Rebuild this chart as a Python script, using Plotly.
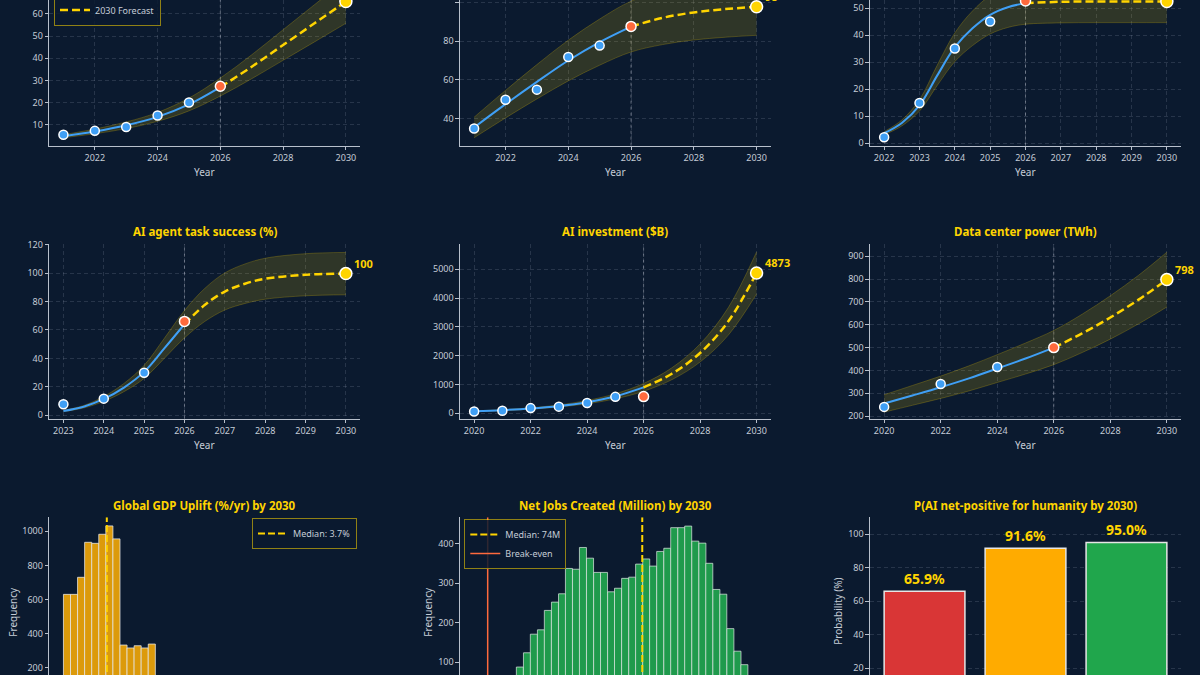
import plotly.graph_objects as go

W, H = 1200, 675
BG = "#0b1a2f"
GOLD = "#FFD400"
BLUE = "#3f9ff5"
RED = "#ff6a3d"
AXIS = "#b8c0cc"
TXT = "#c5ccd6"
GRID = "rgba(200,210,225,0.15)"
BAND_FILL = "rgba(255,215,0,0.15)"
BAND_EDGE = "rgba(255,215,0,0.28)"
FONT = "Noto Sans"

# ---------------- data ----------------
# Panel A (top-left)
a_hist_years = [2021, 2022, 2023, 2024, 2025]
a_hist_vals = [5.5, 7.3, 9.0, 14.2, 20.1]
a_est_2026 = 27.4
a_fc_2030 = 65.6
a_fit_years = [2021, 2022, 2023, 2024, 2025, 2026, 2027, 2028, 2029, 2030]
a_fit_vals = [4.9, 7.0, 9.8, 13.6, 19.2, 27.0, 36.2, 46.0, 55.8, 65.6]
a_band_lo = [4.2, 6.0, 8.3, 11.6, 16.3, 23.0, 30.8, 39.1, 47.4, 55.8]
a_band_hi = [5.6, 8.1, 11.3, 15.6, 22.1, 31.1, 41.6, 52.9, 64.2, 75.4]

# Panel B (top-middle)
b_hist_years = [2021, 2022, 2023, 2024, 2025]
b_hist_vals = [35.0, 49.8, 55.0, 71.8, 77.7]
b_est_2026 = 87.6
b_fc_2030 = 97.7
b_fit_years = [2021, 2022, 2023, 2024, 2025, 2026, 2027, 2028, 2029, 2030]
b_fit_vals = [35.5, 47.5, 59.0, 70.0, 79.5, 87.5, 92.0, 94.8, 96.5, 97.7]
b_band_lo = [30.2, 40.4, 50.2, 59.5, 67.6, 74.4, 78.2, 80.6, 82.0, 83.0]
b_band_hi = [40.8, 54.6, 67.9, 80.5, 91.4, 100.6, 105.8, 109.0, 111.0, 112.4]

# Panel C (top-right)
c_hist_years = [2022, 2023, 2024, 2025]
c_hist_vals = [2.2, 14.9, 35.0, 45.0]
c_est_2026 = 52.6
c_fc_2030 = 52.4
c_fit_years = [2022, 2022.5, 2023, 2023.5, 2024, 2024.5, 2025, 2025.5, 2026, 2027, 2028, 2029, 2030]
c_fit_vals = [3.7, 7.5, 14.0, 25.0, 35.5, 42.5, 47.5, 50.3, 51.8, 52.3, 52.4, 52.4, 52.4]
c_band_lo = [3.1, 6.4, 11.9, 21.3, 30.2, 36.1, 40.4, 42.8, 44.0, 44.5, 44.6, 44.6, 44.6]
c_band_hi = [4.3, 8.6, 16.1, 28.8, 40.8, 48.9, 54.6, 57.8, 59.6, 60.3, 60.4, 60.4, 60.4]

# Panel D: AI agent task success (%)
d_title = "AI agent task success (%)"
d_hist_years = [2023, 2024, 2025]
d_hist_vals = [7.7, 11.7, 29.9]
d_est_2026 = 66.0
d_fc_2030 = 99.6
d_fit_years = [2023, 2023.5, 2024, 2024.5, 2025, 2025.5, 2026, 2026.5, 2027, 2027.5, 2028, 2029, 2030]
d_fit_vals = [3.0, 6.0, 11.5, 19.5, 30.5, 47.0, 64.0, 77.5, 87.0, 92.5, 96.0, 98.8, 99.6]
d_band_lo = [2.6, 5.1, 9.8, 16.6, 25.9, 40.0, 54.4, 65.9, 74.0, 78.6, 81.6, 84.0, 84.7]
d_band_hi = [3.5, 6.9, 13.2, 22.4, 35.1, 54.1, 73.6, 89.1, 100.1, 106.4, 110.4, 113.6, 114.5]

# Panel E: AI investment ($B)
e_title = "AI investment ($B)"
e_hist_years = [2020, 2021, 2022, 2023, 2024, 2025]
e_hist_vals = [60, 90, 180, 230, 360, 570]
e_est_2026 = 580
e_fc_2030 = 4873
e_fit_years = [2020, 2021, 2022, 2023, 2024, 2025, 2026, 2027, 2028, 2029, 2030]
e_fit_vals = [72, 109, 166, 254, 387, 590, 900, 1373, 2094, 3194, 4873]
e_band_lo = [61, 93, 141, 216, 329, 502, 765, 1167, 1780, 2715, 4142]
e_band_hi = [83, 125, 191, 292, 445, 679, 1035, 1579, 2408, 3673, 5604]

# Panel F: Data center power (TWh)
f_title = "Data center power (TWh)"
f_hist_years = [2020, 2022, 2024]
f_hist_vals = [240, 340, 415]
f_est_2026 = 500
f_fc_2030 = 798
f_fit_years = [2020, 2021, 2022, 2023, 2024, 2025, 2026, 2027, 2028, 2029, 2030]
f_fit_vals = [255, 290, 326, 365, 408, 452, 500, 562, 632, 710, 798]
f_band_lo = [217, 247, 277, 310, 347, 384, 425, 478, 537, 604, 678]
f_band_hi = [293, 334, 375, 420, 469, 520, 575, 646, 727, 817, 918]

# Panel G: Global GDP uplift histogram (visible bins)
g_title = "Global GDP Uplift (%/yr) by 2030"
g_bin_centers = [1.22, 1.66, 2.10, 2.54, 2.98, 3.42, 3.86, 4.30, 4.74, 5.18, 5.62, 6.06, 6.50]
g_bin_width = 0.44
g_counts = [630, 630, 730, 935, 929, 982, 1031, 955, 333, 316, 329, 316, 339]
g_median = 3.7

# Panel H: Net jobs histogram (visible bins)
h_title = "Net Jobs Created (Million) by 2030"
h_bin_centers = [15.4, 18.8, 22.1, 25.5, 28.8, 32.2, 35.6, 38.9, 42.3, 45.6, 49.0,
                 52.4, 55.7, 59.1, 62.4, 65.8, 69.2, 72.5, 75.9, 79.2, 82.6, 86.0,
                 89.3, 92.7, 96.0, 99.4, 102.8, 106.1, 109.5, 112.8, 116.2, 119.6, 122.9]
h_bin_width = 3.36
h_counts = [88, 124, 171, 182, 231, 252, 273, 337, 335, 390, 363,
            327, 327, 278, 287, 312, 315, 348, 361, 343, 380, 388,
            440, 440, 444, 406, 401, 350, 284, 272, 185, 128, 94]
h_median = 74
h_break_even = 0

# Panel I: probability bars
i_title = "P(AI net-positive for humanity by 2030)"
i_categories = ["Pessimistic", "Baseline", "Optimistic"]
i_values = [65.9, 91.6, 95.0]
i_colors = ["#d93636", "#ffab00", "#20a64c"]

# ---------------- layout geometry (pixels) ----------------
cols = [(49.3, 360.0), (460.0, 770.7), (870.0, 1181.0)]
rows = [(0.0, 145.7), (244.3, 418.7), (517.3, 675.0)]


def xd(c):
    return [cols[c][0] / W, cols[c][1] / W]


def yd(r):
    return [1 - rows[r][1] / H, 1 - rows[r][0] / H]


def tick_font():
    return dict(size=9, color=TXT, family=FONT)


def base_axis(grid=False):
    return dict(showline=True, linecolor=AXIS, linewidth=1.2, ticks="outside", ticklen=3.5,
                tickwidth=1, tickcolor=AXIS, tickfont=tick_font(), zeroline=False,
                showgrid=grid, gridcolor=GRID, gridwidth=0.8, griddash="4px,3px")


fig = go.Figure()
layout = dict(width=W, height=H, margin=dict(l=0, r=0, t=0, b=0, autoexpand=False),
              paper_bgcolor=BG, plot_bgcolor=BG, font=dict(family=FONT, color=TXT),
              showlegend=True)
annotations = []
shapes = []

line_panels = [
    dict(hy=a_hist_years, hv=a_hist_vals, est=a_est_2026, fc=a_fc_2030, fy=a_fit_years, fv=a_fit_vals,
         lo=a_band_lo, hi=a_band_hi, xr=[2020.55, 2030.45], yr=[0.6, 66.3], xdt=2, ydt=10, title=None, leg=True),
    dict(hy=b_hist_years, hv=b_hist_vals, est=b_est_2026, fc=b_fc_2030, fy=b_fit_years, fv=b_fit_vals,
         lo=b_band_lo, hi=b_band_hi, xr=[2020.55, 2030.45], yr=[26.1, 101.2], xdt=2, ydt=20, title=None, leg=False),
    dict(hy=c_hist_years, hv=c_hist_vals, est=c_est_2026, fc=c_fc_2030, fy=c_fit_years, fv=c_fit_vals,
         lo=c_band_lo, hi=c_band_hi, xr=[2021.6, 2030.4], yr=[-0.9, 52.96], xdt=1, ydt=10, title=None, leg=False),
    dict(hy=d_hist_years, hv=d_hist_vals, est=d_est_2026, fc=d_fc_2030, fy=d_fit_years, fv=d_fit_vals,
         lo=d_band_lo, hi=d_band_hi, xr=[2022.65, 2030.35], yr=[-2.4, 120.2], xdt=1, ydt=20, title=d_title, leg=False),
    dict(hy=e_hist_years, hv=e_hist_vals, est=e_est_2026, fc=e_fc_2030, fy=e_fit_years, fv=e_fit_vals,
         lo=e_band_lo, hi=e_band_hi, xr=[2019.5, 2030.5], yr=[-188, 5868], xdt=2, ydt=1000, title=e_title, leg=False),
    dict(hy=f_hist_years, hv=f_hist_vals, est=f_est_2026, fc=f_fc_2030, fy=f_fit_years, fv=f_fit_vals,
         lo=f_band_lo, hi=f_band_hi, xr=[2019.5, 2030.5], yr=[188.3, 952.6], xdt=2, ydt=100, title=f_title, leg=False),
]

title_y = {1: 1 - 231.7 / H, 2: 1 - 505.0 / H}
year_y = {0: 1 - 171.7 / H, 1: 1 - 445.0 / H}

for i, p in enumerate(line_panels):
    r, c = divmod(i, 3)
    n = "" if i == 0 else str(i + 1)
    xa, ya = "x" + n, "y" + n
    xax = base_axis(True)
    xax.update(domain=xd(c), anchor=ya, range=p["xr"], dtick=p["xdt"], tick0=2020)
    yax = base_axis(True)
    yax.update(domain=yd(r), anchor=xa, range=p["yr"], dtick=p["ydt"], tick0=0)
    layout["xaxis" + n] = xax
    layout["yaxis" + n] = yax

    # confidence band
    fig.add_trace(go.Scatter(x=p["fy"], y=p["hi"], mode="lines", line=dict(color=BAND_EDGE, width=0.8, shape="spline"),
                             xaxis=xa, yaxis=ya, showlegend=False, hoverinfo="skip"))
    fig.add_trace(go.Scatter(x=p["fy"], y=p["lo"], mode="lines", line=dict(color=BAND_EDGE, width=0.8, shape="spline"),
                             fill="tonexty", fillcolor=BAND_FILL, xaxis=xa, yaxis=ya, showlegend=False, hoverinfo="skip"))
    # fitted curve: solid up to 2026, dashed forecast after
    sx = [x for x in p["fy"] if x <= 2026]
    sv = [v for x, v in zip(p["fy"], p["fv"]) if x <= 2026]
    dx = [x for x in p["fy"] if x >= 2026]
    dv = [v for x, v in zip(p["fy"], p["fv"]) if x >= 2026]
    fig.add_trace(go.Scatter(x=sx, y=sv, mode="lines", line=dict(color=BLUE, width=2, shape="spline"),
                             xaxis=xa, yaxis=ya, name="Historical", showlegend=p["leg"], legend="legend"))
    fig.add_trace(go.Scatter(x=dx, y=dv, mode="lines", line=dict(color=GOLD, width=2.5, dash="8px,4px", shape="spline"),
                             xaxis=xa, yaxis=ya, name="2030 Forecast", showlegend=p["leg"], legend="legend"))
    # markers
    fig.add_trace(go.Scatter(x=p["hy"], y=p["hv"], mode="markers",
                             marker=dict(color=BLUE, size=9, line=dict(color="white", width=1.5)),
                             xaxis=xa, yaxis=ya, showlegend=False))
    fig.add_trace(go.Scatter(x=[2026], y=[p["est"]], mode="markers",
                             marker=dict(color=RED, size=10, line=dict(color="white", width=1.5)),
                             xaxis=xa, yaxis=ya, showlegend=False))
    fig.add_trace(go.Scatter(x=[2030], y=[p["fc"]], mode="markers",
                             marker=dict(color=GOLD, size=12, line=dict(color="white", width=1.5)),
                             xaxis=xa, yaxis=ya, showlegend=False))
    annotations.append(dict(x=2030, y=p["fc"], xref=xa, yref=ya, text=f"{p['fc']:.0f}", showarrow=False,
                            xanchor="left", yanchor="middle", xshift=6, yshift=10,
                            font=dict(size=11, color=GOLD, family=FONT, weight="bold")))
    shapes.append(dict(type="line", xref=xa, yref=ya + " domain", x0=2026, x1=2026, y0=0, y1=1,
                       line=dict(color="rgba(200,205,215,0.45)", width=1, dash="dot"), layer="below"))
    annotations.append(dict(x=(cols[c][0] + cols[c][1]) / 2 / W, y=year_y[r], xref="paper", yref="paper",
                            text="Year", showarrow=False, xanchor="center", yanchor="middle",
                            font=dict(size=10, color=TXT, family=FONT)))
    if p["title"]:
        annotations.append(dict(x=(cols[c][0] + cols[c][1]) / 2 / W, y=title_y[r], xref="paper", yref="paper",
                                text=p["title"], showarrow=False, xanchor="center", yanchor="middle",
                                font=dict(size=11.5, color=GOLD, family=FONT, weight="bold")))

# ---------------- bottom row ----------------
# G: GDP histogram
xax = base_axis(False)
xax.update(domain=xd(0), anchor="y7", range=[0.12, 19.46], showticklabels=False)
yax = base_axis(False)
yax.update(domain=yd(2), anchor="x7", range=[157.6, 1081.5], dtick=200, tick0=0)
layout["xaxis7"], layout["yaxis7"] = xax, yax
fig.add_trace(go.Bar(x=g_bin_centers, y=g_counts, width=g_bin_width,
                     marker=dict(color="#dc9a0b", line=dict(color="rgba(235,235,235,0.75)", width=1)),
                     xaxis="x7", yaxis="y7", showlegend=False))
fig.add_trace(go.Scatter(x=[g_median, g_median], y=[0, 1081.5], mode="lines",
                         line=dict(color=GOLD, width=2, dash="7px,3px"), name=f"Median: {g_median}%",
                         xaxis="x7", yaxis="y7", legend="legend2"))

# H: jobs histogram
xax = base_axis(False)
xax.update(domain=xd(1), anchor="y8", range=[-13.26, 135.5], showticklabels=False)
yax = base_axis(False)
yax.update(domain=yd(2), anchor="x8", range=[67.9, 466.2], dtick=100, tick0=0)
layout["xaxis8"], layout["yaxis8"] = xax, yax
fig.add_trace(go.Bar(x=h_bin_centers, y=h_counts, width=h_bin_width,
                     marker=dict(color="#1f9a4c", line=dict(color="rgba(225,235,230,0.7)", width=1)),
                     xaxis="x8", yaxis="y8", showlegend=False))
fig.add_trace(go.Scatter(x=[h_median, h_median], y=[0, 466.2], mode="lines",
                         line=dict(color=GOLD, width=2, dash="7px,3px"), name=f"Median: {h_median}M",
                         xaxis="x8", yaxis="y8", legend="legend3"))
fig.add_trace(go.Scatter(x=[h_break_even, h_break_even], y=[0, 466.2], mode="lines",
                         line=dict(color="#ff6a3d", width=1.5), name="Break-even",
                         xaxis="x8", yaxis="y8", legend="legend3"))

# I: probability bars
xax = base_axis(False)
xax.update(domain=xd(2), anchor="y9", range=[-0.54, 2.54], tickvals=[0, 1, 2], ticktext=i_categories,
           showticklabels=False)
yax = base_axis(True)
yax.update(domain=yd(2), anchor="x9", range=[16.0, 110], dtick=20, tick0=0)
layout["xaxis9"], layout["yaxis9"] = xax, yax
fig.add_trace(go.Bar(x=[0, 1, 2], y=i_values, width=0.8,
                     marker=dict(color=i_colors, line=dict(color="#e6e6e6", width=1.5)),
                     text=[f"{v:.1f}%" for v in i_values], textposition="outside", cliponaxis=False,
                     textfont=dict(size=14, color=GOLD, family=FONT, weight="bold"),
                     xaxis="x9", yaxis="y9", showlegend=False))

for c, t in enumerate([g_title, h_title, i_title]):
    annotations.append(dict(x=(cols[c][0] + cols[c][1]) / 2 / W, y=title_y[2], xref="paper", yref="paper",
                            text=t, showarrow=False, xanchor="center", yanchor="middle",
                            font=dict(size=11.5, color=GOLD, family=FONT, weight="bold")))
for xpx, t in [(13, "Frequency"), (428, "Frequency"), (838, "Probability (%)")]:
    annotations.append(dict(x=xpx / W, y=1 - 611.7 / H, xref="paper", yref="paper", text=t, textangle=-90,
                            showarrow=False, xanchor="center", yanchor="middle",
                            font=dict(size=10, color=TXT, family=FONT)))

leg_common = dict(bgcolor="rgba(11,26,47,0.85)", bordercolor="rgba(255,215,0,0.55)", borderwidth=1,
                  font=dict(size=9, color=TXT, family=FONT), itemwidth=30, tracegroupgap=0,
                  traceorder="normal")
layout["legend"] = dict(x=54 / W, xanchor="left", y=1 - 25.5 / H, yanchor="bottom", **leg_common)
layout["legend2"] = dict(x=357 / W, xanchor="right", y=1 - 518 / H, yanchor="top", **leg_common)
layout["legend3"] = dict(x=464.3 / W, xanchor="left", y=1 - 519 / H, yanchor="top", **leg_common)

layout["annotations"] = annotations
layout["shapes"] = shapes
fig.update_layout(**layout)
fig.write_html("out.html")
